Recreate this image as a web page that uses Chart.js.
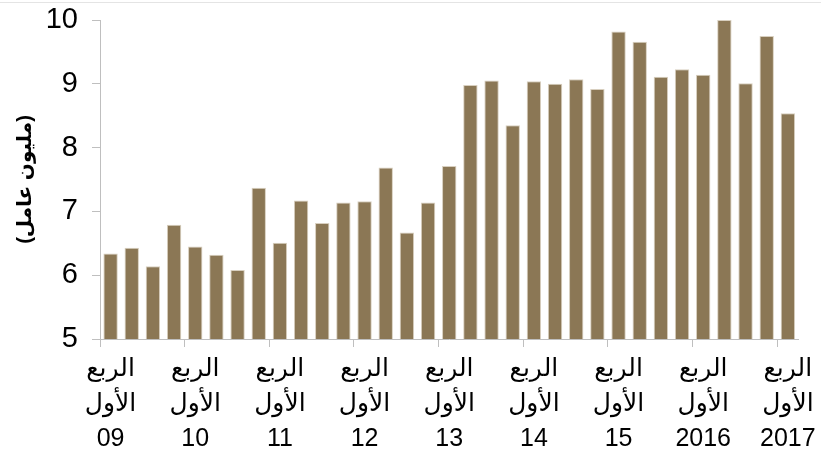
<!DOCTYPE html>
<html>
<head>
<meta charset="utf-8">
<script src="https://cdn.jsdelivr.net/npm/chart.js@4.4.1/dist/chart.umd.min.js"></script>
<style>
  html, body { margin: 0; padding: 0; background: #fff; }
  #wrap { width: 821px; height: 460px; position: relative; box-sizing: border-box; border-top: 1px solid #e4e4e4; margin-top: 2px; }
</style>
</head>
<body>
<div id="wrap"><canvas id="workers" width="821" height="457"></canvas></div>
<script>
/* ================= DATA ================= */

const quarterLabels = [
    "09", "", "", "", "10", "", "", "", "11", "", "", "", "12", "", "", "",
    "13", "", "", "", "14", "", "", "", "15", "", "", "", "2016", "", "", "", "2017"
];

const workers = [
    6.34, 6.43, 6.14, 6.79, 6.45, 6.32, 6.08, 7.37,
    6.51, 7.17, 6.82, 7.14, 7.16, 7.69, 6.67, 7.14,
    7.71, 8.98, 9.05, 8.35, 9.04, 9.00, 9.07, 8.92,
    9.82, 9.66, 9.11, 9.23, 9.14, 10.0, 9.01, 9.75,
    8.54
];

const yTicks = [5, 6, 7, 8, 9, 10];
const quarterName = ["الربع", "الأول"];
const yTitle = "(مليون عامل)";

/* ================= CHART ================= */

const axisGray = "#bfbfbf";
const FONT = "'Liberation Sans', Arial, 'DejaVu Sans', sans-serif";

new Chart(document.getElementById("workers").getContext("2d"), {
    type: "bar",
    data: {
        labels: quarterLabels,
        datasets: [{
            data: workers,
            backgroundColor: "#8b7755",
            borderColor: "#d8cfbf",
            borderWidth: 1,
            borderSkipped: "bottom",
            barPercentage: 0.68,
            categoryPercentage: 1
        }]
    },
    options: {
        responsive: false,
        animation: false,
        layout: { padding: { top: 17, right: 21, left: 0, bottom: 0 } },
        plugins: { legend: { display: false }, tooltip: { enabled: false } },
        scales: {
            x: {
                offset: true,
                grid: {
                    offset: true,
                    drawOnChartArea: false,
                    drawTicks: true,
                    tickLength: 8,
                    tickWidth: 1,
                    tickColor: ctx => (ctx.index % 4 === 0 ? axisGray : "rgba(0,0,0,0)")
                },
                border: { color: axisGray, width: 1 },
                ticks: {
                    autoSkip: false,
                    maxRotation: 0,
                    padding: 5,
                    color: "#000",
                    font: { family: FONT, size: 25, lineHeight: 1.4 },
                    callback: function (val, i) {
                        const lab = quarterLabels[i];
                        return lab ? [quarterName[0], quarterName[1], lab] : "";
                    }
                },
                afterFit: scale => { scale.height = 121; }
            },
            y: {
                min: 5,
                max: 10,
                afterBuildTicks: scale => { scale.ticks = yTicks.map(v => ({ value: v })); },
                grid: {
                    drawOnChartArea: false,
                    drawTicks: true,
                    tickLength: 8,
                    tickColor: axisGray
                },
                border: { color: axisGray, width: 1 },
                ticks: {
                    padding: 14,
                    color: "#000",
                    font: { family: FONT, size: 29 }
                },
                title: {
                    display: true,
                    text: yTitle,
                    color: "#000",
                    padding: { top: 13, bottom: 0 },
                    font: { family: FONT, size: 20, weight: "bold" }
                },
                afterFit: scale => {
                    scale.width = 100;
                    scale.paddingTop = 4;
                    scale.paddingBottom = 4;
                }
            }
        }
    }
});
</script>
</body>
</html>
